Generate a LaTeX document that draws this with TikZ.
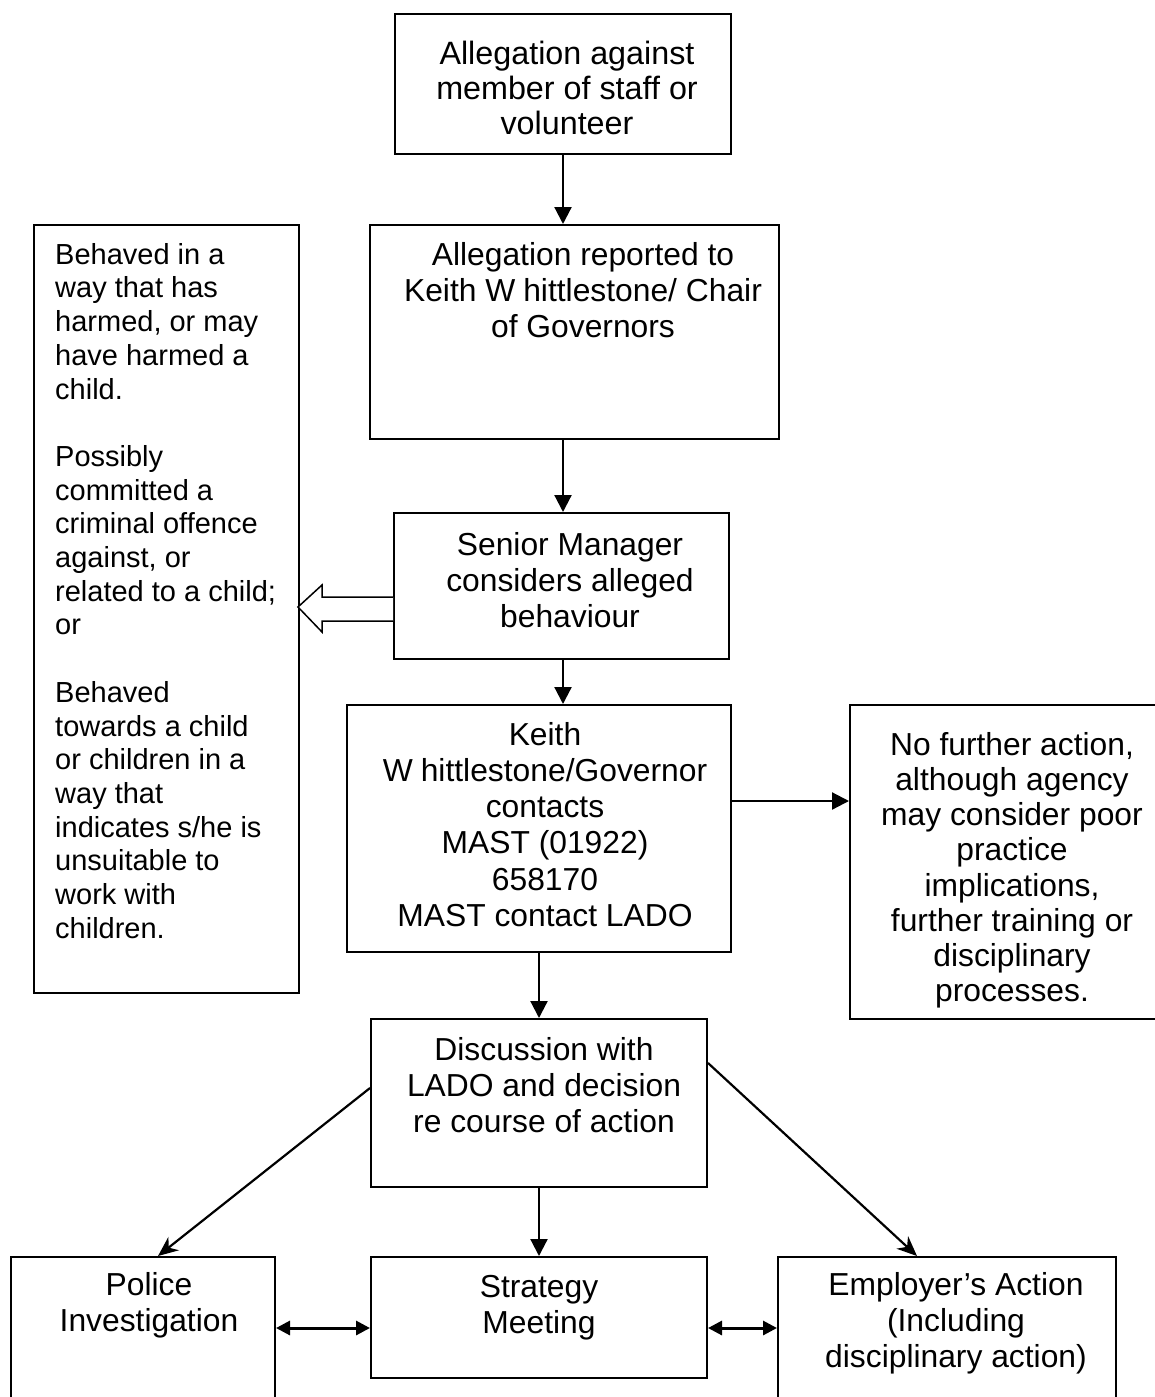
\documentclass[tikz,border=0pt]{standalone}
\usepackage{fontspec}
\setmainfont{Liberation Sans}
\usetikzlibrary{arrows.meta,calc}
\begin{document}
\begin{tikzpicture}[x=1pt,y=-1pt,
  box/.style={draw, line width=2pt, inner sep=0pt, anchor=north west},
  txt/.style={inner sep=0pt, align=center, anchor=north, font=\fontsize{31.8}{36.2}\selectfont},
  arr/.style={line width=2.2pt, -{Triangle[length=17pt,width=17pt]}},
  diag/.style={line width=2.2pt, -{Stealth[length=20pt,width=17pt]}},
  dbl/.style={line width=3pt, {Triangle[length=14pt,width=14pt]}-{Triangle[length=14pt,width=14pt]}}]
\useasboundingbox (0,0) rectangle (1155,1397);
\fill[white] (0,0) rectangle (1155,1397);
\clip (0,0) rectangle (1155,1397);

% boxes
\node[box, minimum width=336pt, minimum height=140pt] (b1) at (394,13) {};
\node[box, minimum width=409pt, minimum height=214pt] (b2) at (369,224) {};
\node[box, minimum width=265pt, minimum height=768pt] (left) at (33,224) {};
\node[box, minimum width=335pt, minimum height=146pt] (senior) at (393,512) {};
\node[box, minimum width=384pt, minimum height=247pt] (keith) at (346,704) {};
\node[box, minimum width=316pt, minimum height=314pt] (nof) at (849,704) {};
\node[box, minimum width=336pt, minimum height=168pt] (disc) at (370,1018) {};
\node[box, minimum width=264pt, minimum height=154pt] (police) at (10,1256) {};
\node[box, minimum width=336pt, minimum height=121pt] (strat) at (370,1256) {};
\node[box, minimum width=338pt, minimum height=154pt] (emp) at (777,1256) {};

% texts
\node[txt, font=\fontsize{32.3}{35}\selectfont] (t1) at (567,39.5) {\strut Allegation against\\member of staff or\\volunteer};
\node[txt] (t2) at (583,239.7) {\strut Allegation reported to\\Keith W\kern0.25em hittlestone/ Chair\\of Governors};
\node[txt, align=left, anchor=north west, font=\fontsize{29}{33.7}\selectfont] (tl) at (55,240.4)
  {\strut Behaved in a\\way that has\\harmed, or may\\have harmed a\\child.\\[33.7pt]Possibly\\committed a\\criminal offence\\against, or\\related to a child;\\or\\[33.7pt]Behaved\\towards a child\\or children in a\\way that\\indicates s/he is\\unsuitable to\\work with\\children.};
\node[txt] (ts) at (570,529.7) {\strut Senior Manager\\considers alleged\\behaviour};
\node[txt] (tk) at (545,719.7) {\strut Keith\\W\kern0.25em hittlestone/Governor\\contacts\\MAST (01922)\\658170\\MAST contact LADO};
\node[txt, font=\fontsize{31.8}{35.2}\selectfont] (tn) at (1012,730.4) {\strut No further action,\\although agency\\may consider poor\\practice\\implications,\\further training or\\disciplinary\\processes.};
\node[txt] (td) at (544,1034.7) {\strut Discussion with\\LADO and decision\\re course of action};
\node[txt] (tp) at (149,1269.7) {\strut Police\\Investigation};
\node[txt] (tst) at (539,1271.7) {\strut Strategy\\Meeting};
\node[txt] (te) at (956,1269.7) {\strut Employer’s Action\\(Including\\disciplinary action)};

% connectors
\draw[arr] (b1.south) -- (b1.south |- b2.north);
\draw[arr] ([xshift=-11.5pt]b2.south) -- ([xshift=-11.5pt]b2.south |- senior.north);
\draw[arr] ([xshift=1.5pt]senior.south) -- ([xshift=1.5pt]senior.south |- keith.north);
\draw[arr] ([yshift=-97pt]keith.north east) -- ([yshift=-97pt]keith.north east -| nof.west);
\draw[arr] (keith.south) -- (keith.south |- disc.north);
\draw[diag] ([yshift=-70pt]disc.north west) -- ([xshift=148pt]police.north west);
\draw[diag] ([yshift=-45pt]disc.north east) -- ([xshift=140pt]emp.north west);
\draw[arr] (disc.south) -- (disc.south |- strat.north);
\draw[dbl] ([yshift=-72pt]police.north east) -- ([yshift=-72pt]police.north east -| strat.west);
\draw[dbl] ([yshift=-72pt]strat.north east) -- ([yshift=-72pt]strat.north east -| emp.west);

% hollow block arrow to the left box
\draw[line width=1.5pt, fill=white, line join=miter]
  ([yshift=-85pt]senior.north west) -- ++(-71,0) -- ++(0,-12) -- ++(-24,22) -- ++(24,25) -- ++(0,-11) -- ++(71,0);
\end{tikzpicture}
\end{document}
